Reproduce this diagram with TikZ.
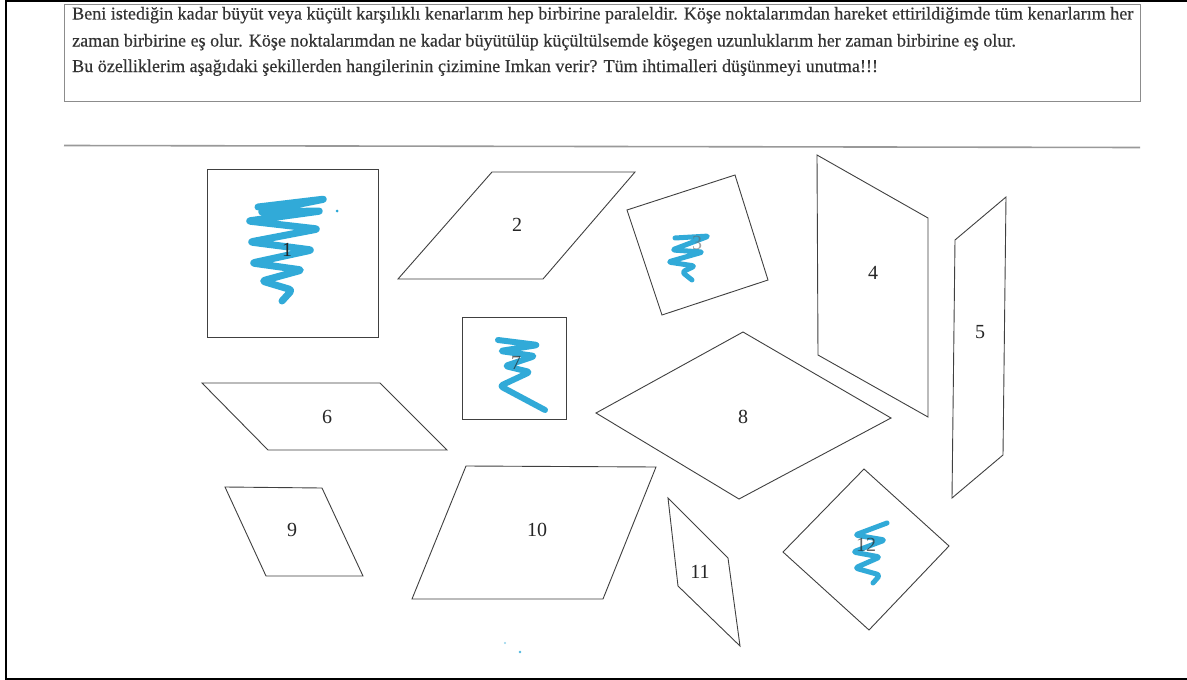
\documentclass[tikz,border=0pt]{standalone}
\usepackage{fontspec}
\setmainfont{Liberation Serif}
\newfontfamily\txtfont{Liberation Serif}[FakeBold=0.35]
\newlength\lineonew
\begin{document}
\settowidth\lineonew{\txtfont\fontsize{10}{12}\selectfont Beni istediğin kadar büyüt veya küçült karşılıklı kenarlarım hep birbirine paraleldir. Köşe noktalarımdan hareket ettirildiğimde tüm kenarlarım her}%
\begin{tikzpicture}[x=1pt,y=-1pt,
  shp/.style={draw=black!75,line width=0.9pt,line join=miter},
  lbl/.style={font=\fontsize{20}{20}\selectfont,text=black!85,inner sep=0pt},
  scrib/.style={draw=scribblue,line width=#1,line cap=round,line join=round,rounded corners=3pt,opacity=0.95},
  txt/.style={anchor=base west,inner sep=0pt,text=black!80}]
\definecolor{scribblue}{RGB}{38,166,214}
\useasboundingbox (0,0) rectangle (1187,680);
\fill[white] (0,0) rectangle (1187,680);
% outer frame
\draw[line width=2.5pt] (1187,1) -- (6,1) -- (6,679) -- (1187,679);
% text box
\draw[draw=black!45,line width=1pt] (64,4) rectangle (1140,101);
\draw[draw=black!40,line width=1.6pt] (64,145.5) -- (1140,147.5);
% text
\pgfmathsetmacro\fsz{10*1061/\lineonew}
\node[txt,font=\txtfont\fontsize{\fsz}{\fsz}\selectfont] (t1) at (72,19.5) {Beni istediğin kadar büyüt veya küçült karşılıklı kenarlarım hep birbirine paraleldir. Köşe noktalarımdan hareket ettirildiğimde tüm kenarlarım her};
\node[txt,font=\txtfont\fontsize{\fsz}{\fsz}\selectfont] (t2) at (72,46.5) {zaman birbirine eş olur. Köşe noktalarımdan ne kadar büyütülüp küçültülsemde köşegen uzunluklarım her zaman birbirine eş olur.};
\node[txt,font=\txtfont\fontsize{\fsz}{\fsz}\selectfont] (t3) at (72,72) {Bu özelliklerim aşağıdaki şekillerden hangilerinin çizimine Imkan verir? Tüm ihtimalleri düşünmeyi unutma!!!};
% shapes
\draw[shp] (207,169) rectangle (378,337);
\draw[shp] (492,172) -- (635,172) -- (543,279) -- (398,279) -- cycle;
\draw[shp] (627,210) -- (735,175) -- (768,280) -- (662,315) -- cycle;
\draw[shp] (817,155) -- (928,218) -- (928,417) -- (818,355) -- cycle;
\draw[shp] (1006,197) -- (955,240) -- (952,498) -- (1003,455) -- cycle;
\draw[shp] (202,383) -- (380,383) -- (447,450) -- (268,450) -- cycle;
\draw[shp] (462,317) rectangle (566,419);
\draw[shp] (743,332) -- (891,418) -- (739,499) -- (596,413) -- cycle;
\draw[shp] (225,487) -- (322,488) -- (363,576) -- (266,576) -- cycle;
\draw[shp] (466,466) -- (656,467) -- (603,599) -- (412,599) -- cycle;
\draw[shp] (668,498) -- (728,558) -- (740,646) -- (678,586) -- cycle;
\draw[shp] (864,469) -- (949,546) -- (869,630) -- (783,552) -- cycle;
% scribbles
\draw[scrib=7pt] (258,207) -- (325,199) -- (260,212) -- (321,211) -- (248,221) -- (318,229) -- (250,242) -- (312,250) -- (252,263) -- (302,270) -- (262,281) -- (292,290) -- (282,301);
\fill[scribblue] (337,211) circle (1.5pt);
\draw[scrib=5pt] (675,238) -- (709,236) -- (672,250) -- (703,252) -- (668,262) -- (695,266) -- (682,272) -- (692,280);
\draw[scrib=6pt] (498,340) -- (538,345) -- (500,351) -- (535,356) -- (505,366) -- (530,372) -- (500,386) -- (545,410);
\draw[scrib=5pt] (887,523) -- (855,535) -- (885,540) -- (853,552) -- (880,557) -- (855,568) -- (880,575) -- (873,583);
\fill[scribblue!50] (505,643) circle (1.2pt);
\fill[scribblue!80] (520,652) circle (1.3pt);
% labels
\node[lbl] (l1) at (287,250) {1};
\node[lbl] (l2) at (517,225) {2};
\node[lbl,text=black!60,opacity=0.6] (l3) at (697,243) {3};
\node[lbl] (l4) at (873,273) {4};
\node[lbl] (l5) at (980,332) {5};
\node[lbl] (l6) at (327,417) {6};
\node[lbl,opacity=0.7] (l7) at (516,363) {7};
\node[lbl] (l8) at (743,417) {8};
\node[lbl] (l9) at (292,530) {9};
\node[lbl] (l10) at (537,530) {10};
\node[lbl] (l11) at (700,572) {11};
\node[lbl,opacity=0.7] (l12) at (866,545) {12};
\end{tikzpicture}
\end{document}
